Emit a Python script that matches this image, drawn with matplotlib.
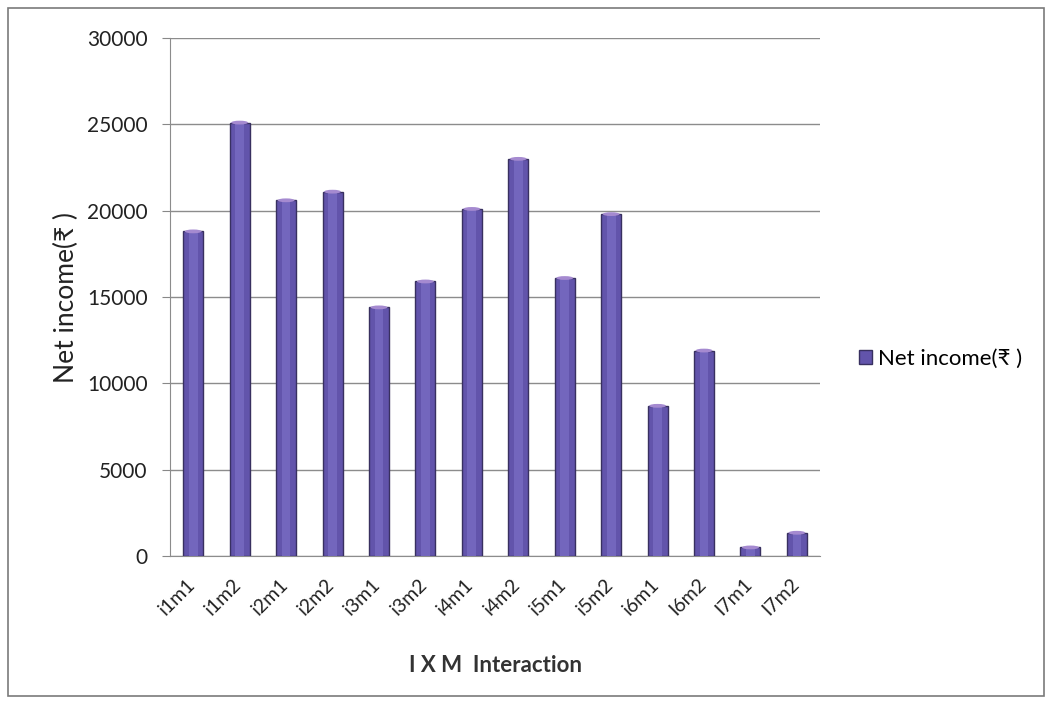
import numpy as np
import matplotlib
matplotlib.use("Agg")
import matplotlib.pyplot as plt
import matplotlib.transforms as mtransforms
from matplotlib.patches import Rectangle, Ellipse

plt.rcParams['font.family'] = ['Lato', 'DejaVu Sans']

categories = ["i1m1", "i1m2", "i2m1", "i2m2", "i3m1", "i3m2", "i4m1",
              "i4m2", "i5m1", "i5m2", "i6m1", "I6m2", "I7m1", "I7m2"]
net_income = [18800, 25100, 20600, 21100, 14400, 15900, 20100,
              23000, 16100, 19800, 8700, 11900, 500, 1350]
y_ticks = [0, 5000, 10000, 15000, 20000, 25000, 30000]

fig = plt.figure(figsize=(10.52, 7.03), dpi=100)
ax = fig.add_axes([0.1616, 0.209, 0.618, 0.737])

x = np.arange(len(categories))
width = 0.43
face = "#6254ab"
ax.bar(x, net_income, width=width, color=face, edgecolor="#383060",
       linewidth=1.0, zorder=3, label="Net income(₹ )")

# cylinder-like shading: lighter band down the middle of each bar and a cap
for xi, v in zip(x, net_income):
    ax.add_patch(Rectangle((xi - width * 0.22, 0), width * 0.44, v,
                           facecolor="#7366bd", edgecolor="none", zorder=4))
    ax.add_patch(Ellipse((xi, v), width * 0.85, 220,
                         facecolor="#a58ad0", edgecolor="none", zorder=5))

ax.set_xlim(-0.5, len(categories) - 0.5)
ax.set_ylim(0, 30000)
ax.set_yticks(y_ticks)
ax.set_yticklabels([str(t) for t in y_ticks], fontsize=15, color="#222222")
ax.set_xticks(x)
ax.set_xticklabels(categories, rotation=45, ha="right", rotation_mode="anchor",
                   fontsize=14, color="#222222")
ax.tick_params(axis="x", length=0, pad=14)
ax.tick_params(axis="y", length=6, color="#888888", pad=10)

# nudge the slanted category labels slightly to the left of their bars
shift = mtransforms.ScaledTranslation(-7 / 100, 0, fig.dpi_scale_trans)
for lbl in ax.get_xticklabels():
    lbl.set_transform(lbl.get_transform() + shift)

ax.grid(axis="y", color="#8c8c8c", linewidth=1.0, zorder=0)
for s in ["top", "right"]:
    ax.spines[s].set_visible(False)
ax.spines["left"].set_color("#8c8c8c")
ax.spines["bottom"].set_color("#8c8c8c")

ax.set_ylabel("Net income(₹ )", fontsize=19, labelpad=6, color="#222222")
ax.set_xlabel("I X M  Interaction", fontsize=16, fontweight="bold",
              labelpad=26, color="#333333")

ax.legend(loc="center left", bbox_to_anchor=(1.06, 0.38), frameon=False,
          fontsize=16, handlelength=0.6, handleheight=0.6,
          handletextpad=0.25, borderpad=0, borderaxespad=0)

# outer chart border
fig.add_artist(Rectangle((0.008, 0.01), 0.984, 0.978, transform=fig.transFigure,
                         fill=False, edgecolor="#7a7a7a", linewidth=1.2))

fig.savefig("out.png", dpi=100)
